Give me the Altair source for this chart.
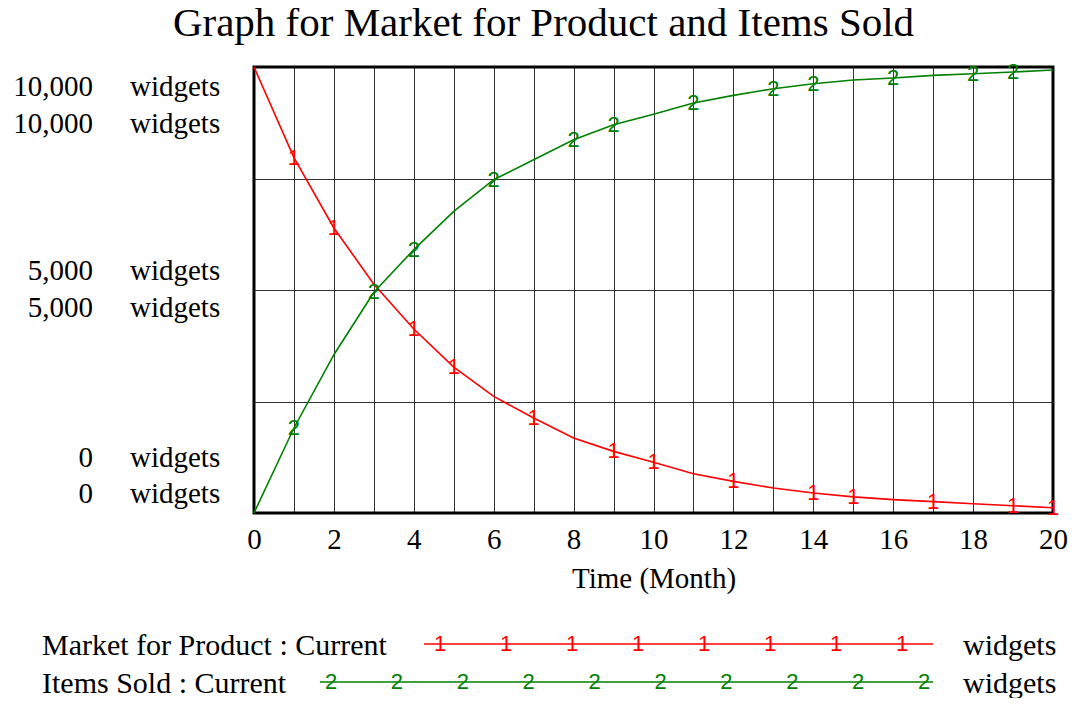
import altair as alt
import pandas as pd

# ---- data ----
months = list(range(21))
market = [10000, 7970, 6390, 5130, 4126, 3273, 2614, 2130, 1682, 1382, 1140,
          881, 709, 560, 448, 362, 300, 255, 209, 164, 119]
items = [0, 1906, 3549, 4950, 5904, 6763, 7473, 7922, 8370, 8707, 8940,
         9193, 9363, 9513, 9626, 9708, 9753, 9812, 9850, 9888, 9933]
market_marks = [1, 2, 4, 5, 7, 9, 10, 12, 14, 15, 17, 19, 20]
items_marks = [1, 3, 4, 6, 8, 9, 11, 13, 14, 16, 18, 19]
series_names = ["Market for Product", "Items Sold"]
series_symbols = ["1", "2"]
series_colors = ["#ff0000", "#008000"]
x_ticks = list(range(21))
y_grid = [0, 2500, 5000, 7500, 10000]
y_label_values = [0, 5000, 10000]
title_text = "Graph for Market for Product and Items Sold"
legend_labels = ["Market for Product : Current", "Items Sold : Current"]
unit = "widgets"

rows = []
for name, sym, vals, marks in zip(series_names, series_symbols, [market, items], [market_marks, items_marks]):
    for t, v in zip(months, vals):
        rows.append({"t": t, "v": v, "series": name, "sym": sym, "marked": t in marks})
df = pd.DataFrame(rows)

FONT = "Liberation Serif"
W, H = 799, 446
color_scale = alt.Scale(domain=series_names, range=series_colors)
x_scale = alt.Scale(domain=[0, 20], nice=False, zero=False)
y_scale = alt.Scale(domain=[0, 10000], nice=False)

x_axis = alt.Axis(values=x_ticks, labelExpr="datum.value % 2 === 0 ? datum.label : ''",
                  grid=True, gridColor="#000", gridOpacity=0.8, gridWidth=1,
                  ticks=False, tickSize=0, domain=False, labelPadding=12,
                  labelFont=FONT, labelFontSize=29, labelColor="#000",
                  labelFlush=False, labelOverlap=False,
                  title="Time (Month)", titleFont=FONT, titleFontSize=29,
                  titleFontWeight="normal", titleColor="#000",
                  titleBaseline="alphabetic", titleY=74)

y_axis_grid = alt.Axis(values=y_grid, labels=False, grid=True, gridColor="#000",
                       gridOpacity=0.8, gridWidth=1, ticks=False, tickSize=0,
                       domain=False, title=None)

base = alt.Chart(df)
lines = base.mark_line(strokeWidth=1.6).encode(
    x=alt.X("t:Q", scale=x_scale, axis=x_axis),
    y=alt.Y("v:Q", scale=y_scale, axis=y_axis_grid),
    color=alt.Color("series:N", scale=color_scale, legend=None),
    detail="series:N",
)
markers = base.transform_filter("datum.marked").mark_text(
    font="Liberation Sans", fontSize=22, align="center", baseline="middle"
).encode(
    x=alt.X("t:Q", scale=x_scale, axis=x_axis),
    y=alt.Y("v:Q", scale=y_scale, axis=y_axis_grid),
    text="sym:N",
    color=alt.Color("series:N", scale=color_scale, legend=None),
)

title = alt.Chart(pd.DataFrame({"txt": [title_text]})).mark_text(
    font=FONT, fontSize=41, align="center", baseline="alphabetic", color="#000"
).encode(x=alt.value(289.5), y=alt.value(-31), text="txt:N")

layers = [lines, markers, title]

# ---- y-axis labels: two rows (one per variable) at each labelled value ----
row_dy = {10000: [29, 66], 5000: [-10, 27], 0: [-46, -10]}
for v in y_label_values:
    d = pd.DataFrame({"v": [v], "num": [f"{v:,}"], "unit": [unit]})
    for dy in row_dy[v]:
        layers.append(alt.Chart(d).mark_text(
            font=FONT, fontSize=29, align="right", baseline="alphabetic", dy=dy, color="#000"
        ).encode(x=alt.value(-161), y=alt.Y("v:Q", scale=y_scale, axis=y_axis_grid), text="num:N"))
        layers.append(alt.Chart(d).mark_text(
            font=FONT, fontSize=29, align="left", baseline="alphabetic", dy=dy, color="#000"
        ).encode(x=alt.value(-124), y=alt.Y("v:Q", scale=y_scale, axis=y_axis_grid), text="unit:N"))

# ---- legend (layout only) ----
one = pd.DataFrame({"k": [0]})
leg_line_y = [577, 615]
leg_text_y = [588, 626]
leg_line_x0 = [170, 66]
leg_mark_x0 = [186, 77]
leg_mark_n = [8, 10]
leg_mark_step = [66, 65.9]
for i in range(2):
    layers.append(alt.Chart(pd.DataFrame({"txt": [legend_labels[i]]})).mark_text(
        font=FONT, fontSize=30, align="left", baseline="alphabetic", color="#000"
    ).encode(x=alt.value(-212), y=alt.value(leg_text_y[i]), text="txt:N"))
    layers.append(alt.Chart(pd.DataFrame({"txt": [unit]})).mark_text(
        font=FONT, fontSize=30, align="left", baseline="alphabetic", color="#000"
    ).encode(x=alt.value(709), y=alt.value(leg_text_y[i]), text="txt:N"))
    layers.append(alt.Chart(one).mark_rule(color=series_colors[i], strokeWidth=1.6).encode(
        x=alt.value(leg_line_x0[i]), x2=alt.value(679), y=alt.value(leg_line_y[i])))
    for k in range(leg_mark_n[i]):
        layers.append(alt.Chart(pd.DataFrame({"txt": [series_symbols[i]]})).mark_text(
            font="Liberation Sans", fontSize=22, align="center", baseline="middle",
            color=series_colors[i]
        ).encode(x=alt.value(leg_mark_x0[i] + k * leg_mark_step[i]),
                 y=alt.value(leg_line_y[i]), text="txt:N"))

chart = alt.layer(*layers).properties(
    width=W, height=H,
    autosize=alt.AutoSizeParams(type="none"),
    padding={"left": 246, "top": 59, "right": 21, "bottom": 185},
).configure_view(stroke="#000", strokeWidth=3)

chart.save("out.html", embed_options={"renderer": "svg", "actions": False})
